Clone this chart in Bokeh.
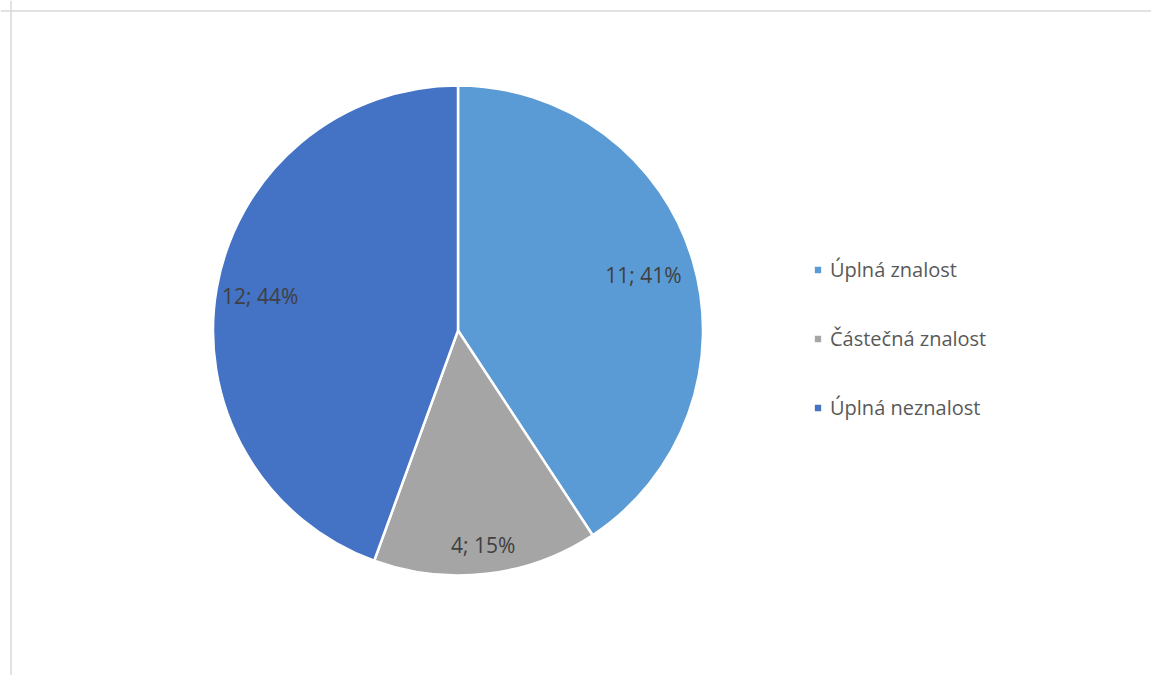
import math
from bokeh.plotting import figure
from bokeh.models import ColumnDataSource, Range1d, Legend, LegendItem, Span
from bokeh.embed import file_html
from bokeh.resources import INLINE

# ---- data ----
categories = ["Úplná znalost", "Částečná znalost", "Úplná neznalost"]
counts = [11, 4, 12]
colors = ["#5B9BD5", "#A5A5A5", "#4472C4"]

W, H = 1151, 675
total = sum(counts)
pct = [round(100 * c / total) for c in counts]
labels = [f"{c}; {p}%" for c, p in zip(counts, pct)]

# geometry (pixel-like data units)
cx, cy, R = 457.5, 345.0, 245.0
label_r = [0.79, 0.883, 0.82]

starts, ends, lx, ly = [], [], [], []
acc = 0.0
for i, c in enumerate(counts):
    a0 = math.pi / 2 - 2 * math.pi * acc / total
    a1 = math.pi / 2 - 2 * math.pi * (acc + c) / total
    starts.append(a0)
    ends.append(a1)
    mid = (acc + c / 2) / total * 2 * math.pi  # clockwise from top
    lx.append(cx + label_r[i] * R * math.sin(mid))
    ly.append(cy + label_r[i] * R * math.cos(mid))
    acc += c

src = ColumnDataSource(dict(cat=categories, count=counts, color=colors,
                            start=starts, end=ends, lx=lx, ly=ly, label=labels))

p = figure(width=W, height=H, output_backend="svg", toolbar_location=None,
           x_range=Range1d(0, W), y_range=Range1d(0, H),
           x_axis_location=None, y_axis_location=None,
           min_border=0, outline_line_color=None)
p.grid.visible = False
p.background_fill_color = "white"
p.border_fill_color = "white"

# chart-area frame (top and left edges visible)
p.add_layout(Span(location=H - 10.5, dimension="width", line_color="#D9D9D9", line_width=1.5))
p.add_layout(Span(location=10.5, dimension="height", line_color="#D9D9D9", line_width=1.5))

r = p.wedge(x=cx, y=cy, radius=R, start_angle="end", end_angle="start",
            fill_color="color", line_color="white", line_width=2.5, source=src)

p.text(x="lx", y="ly", text="label", source=src, text_align="center",
       text_baseline="middle", text_font={"value": "Open Sans"},
       text_font_size="21px", text_color="#404040")

items = [LegendItem(label=categories[i], renderers=[r], index=i) for i in range(len(categories))]
legend = Legend(items=items, location=(812, 254), orientation="vertical",
                label_text_font="Open Sans", label_text_font_size="20px",
                label_text_color="#595959", glyph_width=11, glyph_height=11,
                label_standoff=7, spacing=42, padding=0, margin=0,
                border_line_color=None, background_fill_alpha=0)
p.add_layout(legend)

open("out.html", "w").write(file_html(p, INLINE))
